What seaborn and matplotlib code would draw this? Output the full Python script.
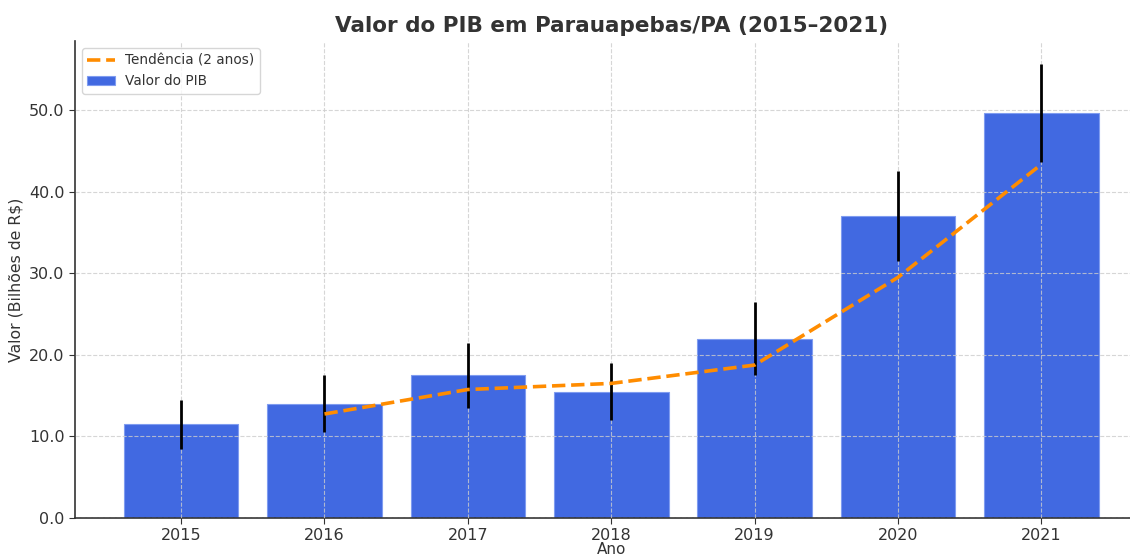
import numpy as np
import pandas as pd
import matplotlib
matplotlib.use("Agg")
import matplotlib.pyplot as plt
import seaborn as sns

years = ["2015", "2016", "2017", "2018", "2019", "2020", "2021"]
pib = [11.5, 14.0, 17.5, 15.5, 22.0, 37.0, 49.7]
erro = [3.0, 3.5, 4.0, 3.5, 4.5, 5.5, 6.0]
tendencia = [np.nan, 12.75, 15.75, 16.5, 18.75, 29.5, 43.35]

sns.set_style("white")
plt.rcParams['font.family'] = ['DejaVu Sans']

fig = plt.figure(figsize=(11.3, 5.55), dpi=100)
ax = fig.add_axes([0.0664, 0.0667, 0.949, 0.859])

df = pd.DataFrame({"Ano": years, "PIB": pib})
sns.barplot(data=df, x="Ano", y="PIB", color="#4169E1", saturation=1,
            errorbar=None, ax=ax, label="Valor do PIB", width=0.8,
            edgecolor="#7f9cf0", linewidth=0.8, zorder=1)
pos = np.arange(len(years))
ax.errorbar(pos, pib, yerr=erro, fmt="none", ecolor="black", elinewidth=2,
            capsize=0, zorder=3)
sns.lineplot(x=pos, y=tendencia, ax=ax, color="#FF8C00", linestyle="--",
             linewidth=2.6, label="Tendência (2 anos)", zorder=4)

ax.set_axisbelow(False)
ax.grid(True, linestyle="--", color="#cccccc", linewidth=0.8, alpha=0.8, zorder=2)
ax.set_xlim(-0.74, 6.74)
ax.set_ylim(0, 58.45)
ax.yaxis.set_major_formatter(matplotlib.ticker.FormatStrFormatter("%.1f"))
ax.set_yticks([0, 10, 20, 30, 40, 50])
for s in ["top", "right"]:
    ax.spines[s].set_visible(False)
for s in ["left", "bottom"]:
    ax.spines[s].set_color("#333333")
    ax.spines[s].set_linewidth(1.2)
ax.tick_params(axis="both", labelsize=11.5, colors="#333333", length=4,
               left=True, bottom=True)
ax.set_xlabel("Ano", fontsize=11, color="#333333", labelpad=-1)
ax.set_ylabel("Valor (Bilhões de R$)", fontsize=11.3, color="#333333")
ax.set_title("Valor do PIB em Parauapebas/PA (2015–2021)", fontsize=15.5,
             fontweight="bold", color="#333333", pad=7)
leg = ax.legend(loc="upper left", fontsize=9.8, frameon=True)
for t in leg.get_texts():
    t.set_color("#333333")

fig.savefig("out.png", dpi=100)
